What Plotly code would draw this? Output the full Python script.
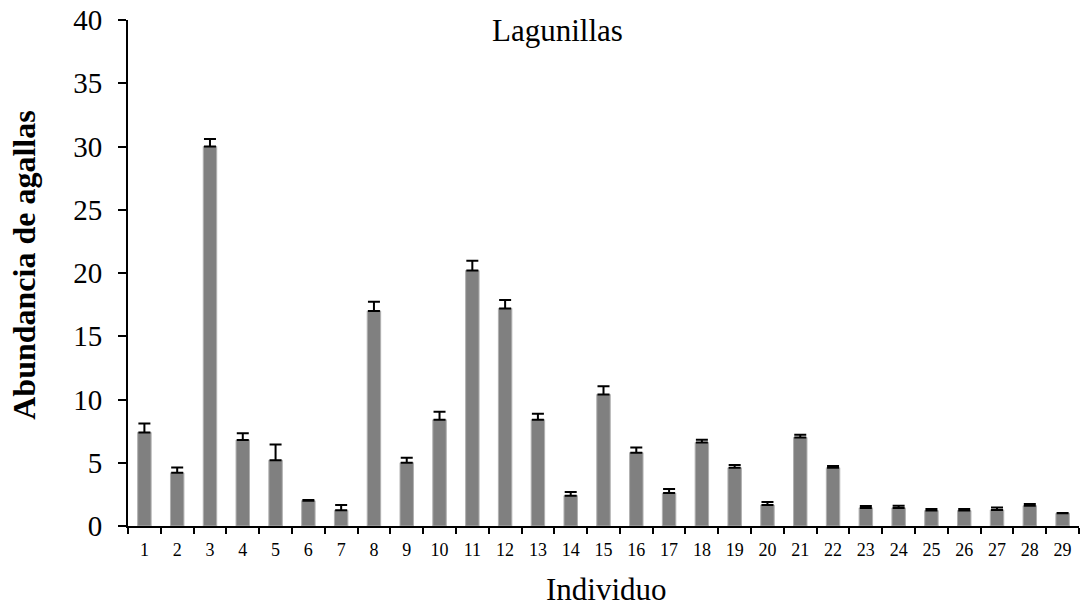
import plotly.graph_objects as go

individuos = [str(i) for i in range(1, 30)]
abundancia = [7.4, 4.2, 30.0, 6.8, 5.2, 2.0, 1.24, 17.0, 5.0, 8.4, 20.2, 17.2, 8.4, 2.4,
              10.4, 5.8, 2.6, 6.6, 4.6, 1.66, 7.0, 4.6, 1.43, 1.43, 1.22, 1.22, 1.27, 1.6, 1.0]
error_sup = [0.7, 0.42, 0.6, 0.53, 1.25, 0.05, 0.42, 0.72, 0.4, 0.63, 0.77, 0.66, 0.48, 0.29,
             0.64, 0.4, 0.32, 0.21, 0.23, 0.24, 0.21, 0.15, 0.15, 0.17, 0.13, 0.13, 0.19, 0.14, 0.03]
y_ticks = [0, 5, 10, 15, 20, 25, 30, 35, 40]

FONT = "Liberation Serif, Times New Roman, serif"

fig = go.Figure()
fig.add_trace(go.Bar(
    x=individuos, y=abundancia,
    marker=dict(color="#808080", line=dict(color="#b0b0b0", width=1)),
    error_y=dict(type="data", array=error_sup, arrayminus=[0]*len(error_sup),
                 symmetric=False, color="black", thickness=2, width=6),
    width=0.41,
))

fig.update_layout(
    width=1086, height=607,
    margin=dict(l=128, r=7, t=20, b=81),
    paper_bgcolor="white", plot_bgcolor="white",
    showlegend=False,
    font=dict(family=FONT, color="black"),
    xaxis=dict(
        type="category", showline=True, linecolor="black", linewidth=2,
        ticks="outside", tickson="boundaries", ticklen=6, tickwidth=2, tickcolor="black",
        tickfont=dict(size=18, family=FONT), showgrid=False, ticklabelstandoff=6,
        automargin=False,
    ),
    yaxis=dict(
        range=[0, 40], tickvals=y_ticks, showline=True, linecolor="black", linewidth=2,
        ticks="outside", ticklen=8, tickwidth=2, tickcolor="black",
        tickfont=dict(size=29, family=FONT), showgrid=False, zeroline=False,
        ticklabelstandoff=10, automargin=False,
    ),
    annotations=[
        dict(text="Lagunillas", xref="paper", yref="paper", x=0.452, y=0.98,
             xanchor="center", yanchor="middle", showarrow=False,
             font=dict(size=31, family=FONT, color="black")),
        dict(text="Individuo", xref="paper", yref="paper", x=(606.7 - 128) / 951, y=-0.126,
             xanchor="center", yanchor="middle", showarrow=False,
             font=dict(size=31, family=FONT, color="black")),
        dict(text="<b>Abundancia de agallas</b>", xref="paper", yref="paper", x=-0.109, y=0.515,
             xanchor="center", yanchor="middle", showarrow=False, textangle=-90,
             font=dict(size=32, family=FONT, color="black")),
    ],
)

fig.write_html("out.html")
